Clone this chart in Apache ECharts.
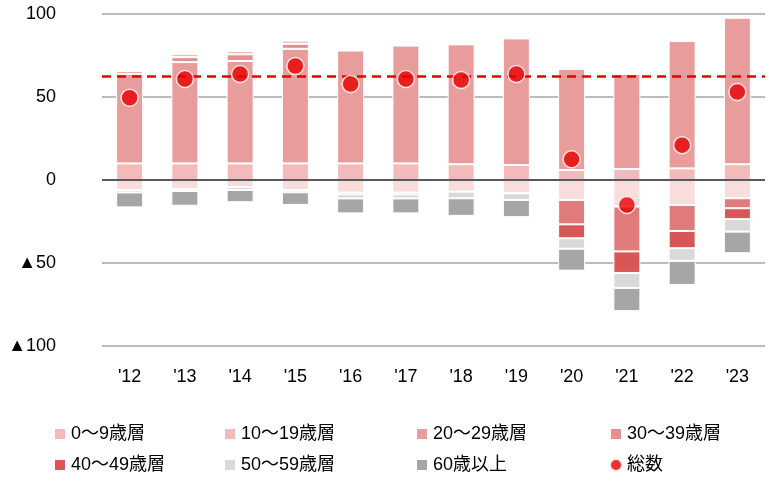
<!DOCTYPE html>
<html>
<head>
<meta charset="utf-8">
<script src="https://cdn.jsdelivr.net/npm/echarts@6/dist/echarts.min.js"></script>
<style>html,body{margin:0;padding:0;background:#fff}#main{width:780px;height:482px}</style>
</head>
<body>
<div id="main"></div>
<script>
var chart = echarts.init(document.getElementById('main'));

var years = ["'12","'13","'14","'15","'16","'17","'18","'19","'20","'21","'22","'23"];
// 正側
var p10_19 = [10, 10, 10, 10, 10, 10, 9.5, 9, 6, 6.6, 7, 9.5];
var p20_29 = [54, 61, 61.7, 69, 68, 71, 72.2, 76.3, 61, 57.4, 76.7, 88.3];
var p30_39 = [1.7, 3, 4, 3, 0, 0, 0, 0, 0, 0, 0, 0];
var p0_9 = [0, 2, 2, 2, 0, 0, 0, 0, 0, 0, 0, 0];
// 負側
var n0_9 = [-6, -5.4, -4.2, -6, -7.6, -7.6, -7, -8, -12, -16, -15, -11];
var n30_39 = [0, 0, 0, 0, 0, 0, 0, 0, -14.7, -27, -15.7, -6];
var n40_49 = [0, 0, 0, 0, -1, -1, 0, 0, -8.4, -13, -10.4, -6.6];
var n50_59 = [-1.5, -1.2, -1.8, -1.4, -2.5, -2.5, -4, -4, -6.3, -9, -7.6, -7.5];
var n60 = [-9, -8.9, -7.4, -7.6, -9, -9, -10.6, -10.4, -13.2, -14, -14.5, -13];
var total = [49.6, 60.8, 63.9, 68.7, 57.8, 60.8, 60.2, 63.9, 12.5, -15, 21, 53];
var avgLine = 62.2;

var names = ['0～9歳層','10～19歳層','20～29歳層','30～39歳層','40～49歳層','50～59歳層','60歳以上','総数'];
var colors = ['#f9dcdc','#f2baba','#e89c9c','#e07b7b','#d85656','#d9d9d9','#a6a6a6','#e60000'];
var font = '"Liberation Sans", "Noto Sans CJK JP", sans-serif';

function bar(name, data, color) {
    return {
        name: name, type: 'bar', stack: 'a', data: data, barWidth: 27,
        itemStyle: {color: color, borderColor: '#fff', borderWidth: 1},
        emphasis: {disabled: true}
    };
}

var series = [
    bar(names[1], p10_19, colors[1]),
    bar(names[2], p20_29, colors[2]),
    bar(names[3], p30_39, '#e49090'),
    bar(names[0], p0_9, colors[1]),
    bar(names[0], n0_9, colors[0]),
    bar(names[3], n30_39, colors[3]),
    bar(names[4], n40_49, colors[4]),
    bar(names[5], n50_59, colors[5]),
    bar(names[6], n60, colors[6]),
    {
        name: names[7], type: 'scatter', data: total, symbolSize: 17, z: 10,
        itemStyle: {color: colors[7], borderColor: '#fff', borderWidth: 1.5},
        markLine: {
            silent: true, symbol: 'none', label: {show: false},
            lineStyle: {color: '#e60000', type: [9, 6], width: 2.5},
            data: [{yAxis: avgLine}]
        }
    }
];

// 凡例：2行4列
var legendPos = [[48,420],[218,420],[410,420],[604,420],[48,451],[218,451],[410,451],[604,451]];
var legends = names.map(function (n, i) {
    return {
        data: [{name: n, icon: i == 7 ? 'circle' : 'rect'}],
        left: legendPos[i][0], top: legendPos[i][1],
        itemWidth: 12, itemHeight: 12, selectedMode: false,
        textStyle: {fontSize: 18, color: '#000', fontFamily: font}
    };
});

var option = {
    backgroundColor: '#fff',
    animation: false,
    color: colors,
    legend: legends,
    grid: {left: 102, right: 15, top: 14, bottom: 136, containLabel: false},
    xAxis: {
        type: 'category', data: years,
        axisLine: {show: false}, axisTick: {show: false},
        axisLabel: {fontSize: 18, color: '#000', margin: 22, fontFamily: font}
    },
    yAxis: {
        type: 'value', min: -100, max: 100, interval: 50,
        axisLine: {show: false}, axisTick: {show: false},
        axisLabel: {
            fontSize: 18, color: '#000', margin: 46, align: 'right', fontFamily: font,
            formatter: function (v) { return v < 0 ? '▲' + (-v) : v; }
        },
        splitLine: {lineStyle: {color: '#a6a6a6', width: 1.5}}
    },
    series: series.concat([{
        type: 'line', data: [], markLine: {
            silent: true, symbol: 'none', label: {show: false},
            lineStyle: {color: '#595959', type: 'solid', width: 2}, data: [{yAxis: 0}]
        }
    }])
};
chart.setOption(option);
</script>
</body>
</html>
